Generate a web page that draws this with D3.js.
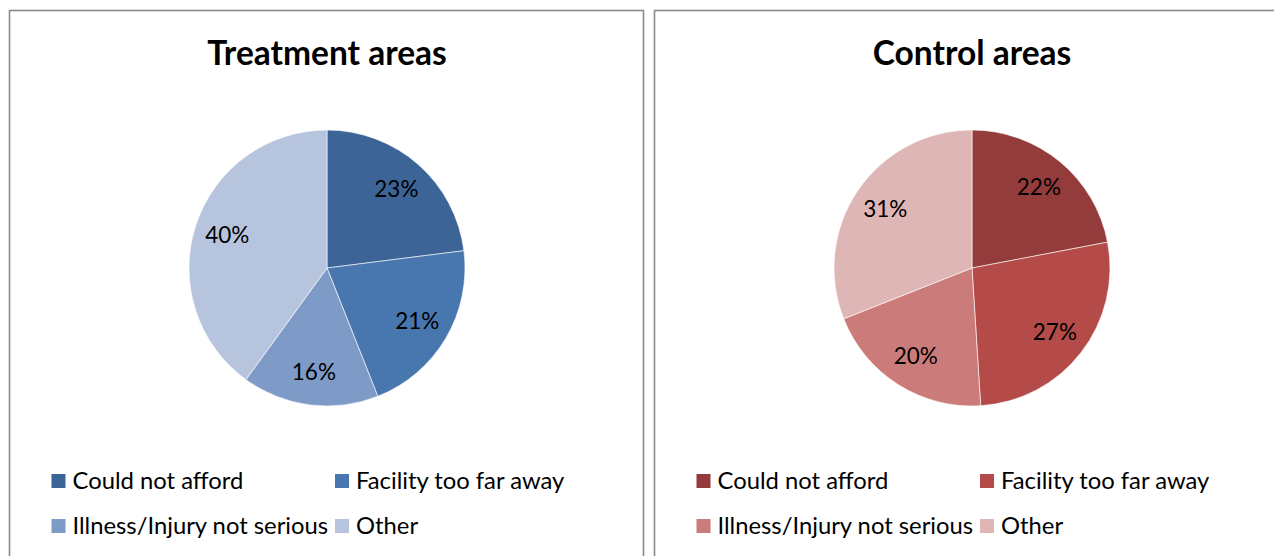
<!DOCTYPE html>
<html><head><meta charset="utf-8">
<script src="https://cdn.jsdelivr.net/npm/d3@7"></script>
<style>body{margin:0;background:#fff}svg{display:block}</style>
</head><body><svg id="c" width="1274" height="556"></svg>
<script>
const categories = ["Could not afford", "Facility too far away", "Illness/Injury not serious", "Other"];
const treatmentValues = [23, 21, 16, 40];
const controlValues = [22, 27, 20, 31];
const treatmentColors = ["#3C6496", "#4877B0", "#7E9BC8", "#B7C4DE"];
const controlColors = ["#943C3C", "#B44B48", "#CA7B7A", "#DFB6B6"];
const titles = ["Treatment areas", "Control areas"];

const svg = d3.select("#c");
const font = "Lato, 'Open Sans', sans-serif";
const panels = [
  {x: 9.5, title: titles[0], values: treatmentValues, colors: treatmentColors},
  {x: 654.5, title: titles[1], values: controlValues, colors: controlColors}
];
const panelW = 634, panelTop = 10.5, R = 138, cy = 268;

panels.forEach(p => {
  const g = svg.append("g").attr("transform", `translate(${p.x},0)`);
  g.append("rect").attr("x", 0).attr("y", panelTop).attr("width", panelW).attr("height", 600)
    .attr("fill", "#fff").attr("stroke", "#8a8a8a").attr("stroke-width", 1.6);
  const cx = 317.5;
  g.append("text").attr("x", cx).attr("y", 65).attr("text-anchor", "middle")
    .attr("font-family", font).attr("font-weight", "bold").attr("font-size", 33.5).attr("fill", "#000")
    .text(p.title);
  const data = categories.map((c, i) => ({c, v: p.values[i], col: p.colors[i]}));
  const pie = d3.pie().value(d => d.v).sort(null);
  const arc = d3.arc().innerRadius(0).outerRadius(R);
  const labelArc = d3.arc().innerRadius(R * 0.76).outerRadius(R * 0.76);
  const pg = g.append("g").attr("transform", `translate(${cx},${cy})`);
  const arcs = pie(data);
  pg.selectAll("path").data(arcs).join("path").attr("d", arc)
    .attr("fill", d => d.data.col).attr("stroke", "#fff").attr("stroke-width", 0.6);
  pg.selectAll("text").data(arcs).join("text")
    .attr("transform", d => `translate(${labelArc.centroid(d)})`)
    .attr("text-anchor", "middle").attr("dy", "0.35em")
    .attr("font-family", font).attr("font-size", 22.5).attr("fill", "#000")
    .text(d => d.data.v + "%");
  const lg = g.append("g");
  const pos = [[42, 481], [325.5, 481], [42, 526], [325.5, 526]];
  data.forEach((d, i) => {
    const [lx, ly] = pos[i];
    lg.append("rect").attr("x", lx).attr("y", ly - 7).attr("width", 14).attr("height", 14).attr("fill", d.col);
    lg.append("text").attr("x", lx + 21).attr("y", ly).attr("dy", "0.35em")
      .attr("font-family", font).attr("font-size", 23.8).attr("fill", "#000").text(d.c);
  });
});
</script></body></html>
